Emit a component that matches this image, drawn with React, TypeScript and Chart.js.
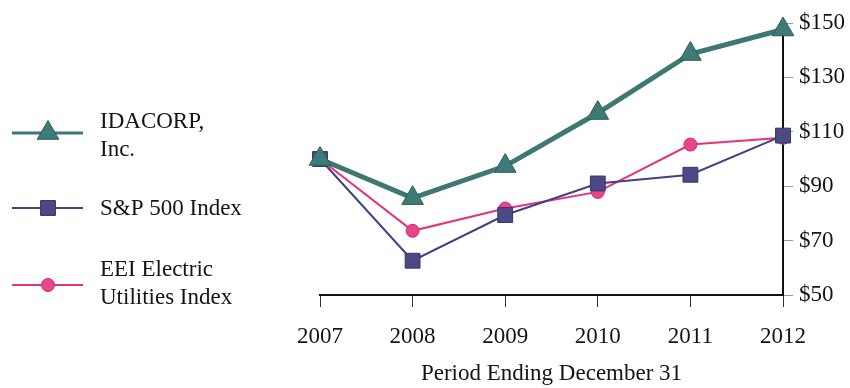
import { useEffect, useRef } from "react";
import { Chart, registerables } from "chart.js";

Chart.register(...registerables);

const categories = ["2007", "2008", "2009", "2010", "2011", "2012"];
const idacorpValues = [100, 85.6, 97.4, 116.9, 138.6, 147.6];
const sp500Values = [100, 62.6, 79.4, 91.0, 94.2, 108.6];
const eeiValues = [100, 73.6, 81.8, 87.9, 105.3, 107.8];
const yTickValues = [50, 70, 90, 110, 130, 150];
const seriesNames = ["IDACORP, Inc.", "S&P 500 Index", "EEI Electric Utilities Index"];
const legendLines = [["IDACORP,", "Inc."], ["S&P 500 Index"], ["EEI Electric", "Utilities Index"]];
const xAxisTitle = "Period Ending December 31";

const FONT_FAMILY = "'Liberation Serif', 'DejaVu Serif', serif";
const TEXT_COLOR = "#141414";

function drawMarker(ctx: CanvasRenderingContext2D, style: string, x: number, y: number, r: number, fill: string, stroke: string) {
  ctx.save();
  ctx.fillStyle = fill;
  ctx.strokeStyle = stroke;
  ctx.lineWidth = 1;
  ctx.beginPath();
  if (style === "triangle") {
    let rad = 0;
    ctx.moveTo(x + Math.sin(rad) * r, y - Math.cos(rad) * r);
    rad += (2 * Math.PI) / 3;
    ctx.lineTo(x + Math.sin(rad) * r, y - Math.cos(rad) * r);
    rad += (2 * Math.PI) / 3;
    ctx.lineTo(x + Math.sin(rad) * r, y - Math.cos(rad) * r);
    ctx.closePath();
  } else if (style === "rect") {
    const s = Math.SQRT1_2 * r;
    ctx.rect(x - s, y - s, 2 * s, 2 * s);
  } else {
    ctx.arc(x, y, r, 0, Math.PI * 2);
  }
  ctx.fill();
  ctx.stroke();
  ctx.restore();
}

const sideLegend = {
  id: "sideLegend",
  afterDraw(chart: any) {
    const ctx: CanvasRenderingContext2D = chart.ctx;
    const lineYs = [133, 208, 285];
    const textYs = [136, 209, 284];
    const lineGap = 28;
    chart.data.datasets.forEach((ds: any, i: number) => {
      const y = lineYs[i];
      ctx.save();
      ctx.strokeStyle = ds.borderColor;
      ctx.lineWidth = Math.min(ds.borderWidth, 3);
      ctx.beginPath();
      ctx.moveTo(12, y);
      ctx.lineTo(83, y);
      ctx.stroke();
      ctx.restore();
      drawMarker(ctx, ds.pointStyle, 48, y, ds.pointRadius, ds.pointBackgroundColor, ds.pointBorderColor);
      const lines = legendLines[i];
      ctx.save();
      ctx.fillStyle = TEXT_COLOR;
      ctx.font = `23px ${FONT_FAMILY}`;
      ctx.textBaseline = "middle";
      ctx.textAlign = "left";
      const start = textYs[i] - ((lines.length - 1) * lineGap) / 2;
      lines.forEach((t, k) => ctx.fillText(t, 100, start + k * lineGap));
      ctx.restore();
    });
  },
};

export default function App() {
  const canvasRef = useRef<HTMLCanvasElement | null>(null);

  useEffect(() => {
    document.body.style.margin = "0";
    const canvas = canvasRef.current;
    if (!canvas) return;
    const font = { family: FONT_FAMILY, size: 23 };
    const chart = new Chart(canvas, {
      type: "line",
      data: {
        labels: categories,
        datasets: [
          {
            label: seriesNames[0],
            data: idacorpValues,
            borderColor: "#3d7872",
            borderWidth: 5,
            pointStyle: "triangle",
            pointRadius: 12.5,
            pointBackgroundColor: "#3f7b76",
            pointBorderColor: "#2b5e5a",
            pointBorderWidth: 1,
            tension: 0,
            clip: false,
          },
          {
            label: seriesNames[1],
            data: sp500Values,
            borderColor: "#434180",
            borderWidth: 2,
            pointStyle: "rect",
            pointRadius: 10.5,
            pointBackgroundColor: "#4c4a84",
            pointBorderColor: "#36346c",
            pointBorderWidth: 1,
            tension: 0,
            clip: false,
          },
          {
            label: seriesNames[2],
            data: eeiValues,
            borderColor: "#e8307a",
            borderWidth: 2,
            pointStyle: "circle",
            pointRadius: 6.5,
            pointBackgroundColor: "#e8468a",
            pointBorderColor: "#d02a70",
            pointBorderWidth: 1,
            tension: 0,
            clip: false,
          },
        ] as any,
      },
      options: {
        animation: false,
        responsive: true,
        maintainAspectRatio: false,
        layout: { padding: { left: 320, top: 23, right: 0, bottom: 0 } },
        plugins: {
          legend: { display: false },
          tooltip: { enabled: false },
        },
        scales: {
          x: {
            type: "category",
            offset: false,
            grid: { drawOnChartArea: false, drawTicks: true, tickLength: 12, tickColor: "#333", tickWidth: 1 },
            border: { display: true, color: "#111", width: 2 },
            ticks: { font, color: TEXT_COLOR, padding: 16, maxRotation: 0 },
            title: { display: true, text: xAxisTitle, font, color: TEXT_COLOR, padding: { top: 0, bottom: 0 } },
            afterFit: (s: any) => {
              s.height = 93;
            },
          },
          y: {
            position: "right",
            min: 50,
            max: 150,
            afterBuildTicks: (s: any) => {
              s.ticks = yTickValues.map((v) => ({ value: v }));
            },
            grid: { drawOnChartArea: false, drawTicks: true, tickLength: 10, tickColor: "#9a9a9a", tickWidth: 1 },
            border: { display: true, color: "#111", width: 2 },
            ticks: { font, color: TEXT_COLOR, padding: 6, callback: (v: any) => "$" + v },
            afterFit: (s: any) => {
              s.width = 67;
            },
          },
        },
      } as any,
      plugins: [sideLegend],
    });
    return () => chart.destroy();
  }, []);

  return (
    <div style={{ position: "relative", width: 850, height: 388, background: "#fff" }}>
      <canvas ref={canvasRef} />
    </div>
  );
}
